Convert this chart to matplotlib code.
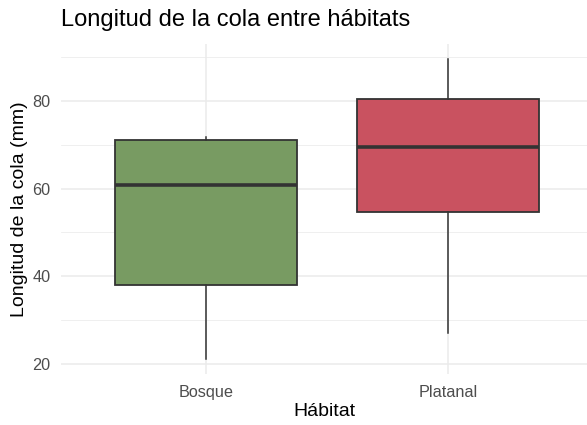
import matplotlib.pyplot as plt

# Boxplot summary
habitats = ["Bosque", "Platanal"]
whisker_low = [21.1, 27.1]
q1 = [38.0, 54.7]
medians = [60.9, 69.5]
q3 = [71.0, 80.5]
whisker_high = [71.8, 89.6]
colors = ["#789B62", "#C95260"]

plt.rcParams['font.family'] = ['Liberation Sans', 'DejaVu Sans']

fig = plt.figure(figsize=(5.87, 4.25), dpi=100)
ax = fig.add_axes([61 / 587, 51 / 425, 526 / 587, 330 / 425])

stats = []
for i, h in enumerate(habitats):
    stats.append({"label": h, "whislo": whisker_low[i], "q1": q1[i], "med": medians[i],
                  "q3": q3[i], "whishi": whisker_high[i], "fliers": []})

bp = ax.bxp(stats, positions=[1, 2], widths=0.75, patch_artist=True, showcaps=False,
            boxprops=dict(edgecolor="#333333", linewidth=1.3),
            medianprops=dict(color="#333333", linewidth=2.6, solid_capstyle="butt"),
            whiskerprops=dict(color="#333333", linewidth=1.1))
for patch, c in zip(bp["boxes"], colors):
    patch.set_facecolor(c)
for art in bp["boxes"] + bp["medians"] + bp["whiskers"]:
    art.set_zorder(3)

ax.set_xlim(0.4, 2.574)
ax.set_ylim(17.7, 93.0)
ax.set_yticks([20, 40, 60, 80])
ax.set_yticks([30, 50, 70, 90], minor=True)
ax.grid(True, which="major", color="#EBEBEB", linewidth=1.1)
ax.grid(True, which="minor", axis="y", color="#EBEBEB", linewidth=0.55)
ax.set_axisbelow(True)
for s in ax.spines.values():
    s.set_visible(False)
ax.tick_params(axis="both", which="both", length=0, labelsize=11.7, labelcolor="#4D4D4D")
ax.tick_params(axis="x", pad=8)
ax.tick_params(axis="y", pad=7.5)

ax.set_xlabel("Hábitat", fontsize=14, labelpad=2)
ax.set_ylabel("Longitud de la cola (mm)", fontsize=14, labelpad=3)
fig.text(61 / 587, 1 - 20 / 425, "Longitud de la cola entre hábitats", fontsize=17, va="center", ha="left")

fig.savefig("out.png", dpi=100)
